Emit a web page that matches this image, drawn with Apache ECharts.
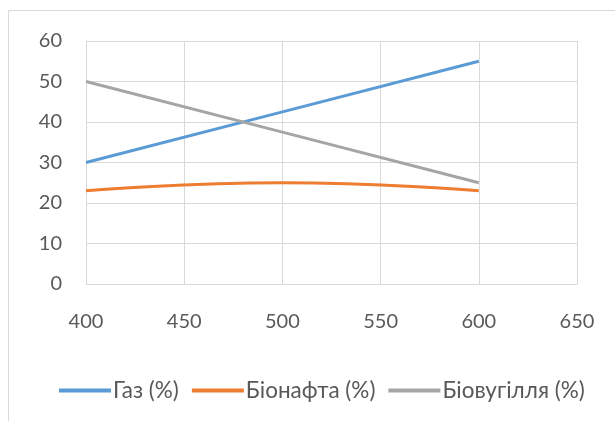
<!DOCTYPE html>
<html><head><meta charset="utf-8">
<script src="https://cdn.jsdelivr.net/npm/echarts@6/dist/echarts.min.js"></script>
<style>html,body{margin:0;padding:0;background:#fff}#c{width:615px;height:421px}</style>
</head><body><div id="c"></div>
<script>
const temps = [400, 500, 600];
const gas = [30, 42.5, 55];
const bioOil = [23, 25, 23];
const bioChar = [50, 37.5, 25];
const seriesNames = ['Газ (%)', 'Біонафта (%)', 'Біовугілля (%)'];
const colors = ['#5B9BD5', '#ED7D31', '#A5A5A5'];
const xTicks = {min: 400, max: 650, interval: 50};
const yTicks = {min: 0, max: 60, interval: 10};

const font = 'Lato, "Open Sans", sans-serif';
const chart = echarts.init(document.getElementById('c'), null, {renderer: 'canvas'});
const pair = arr => temps.map((t, i) => [t, arr[i]]);
chart.setOption({
  animation: false,
  graphic: [{type: 'rect', shape: {x: 8.5, y: 10.5, width: 700, height: 500},
    style: {fill: 'none', stroke: '#D9D9D9', lineWidth: 1}}],
  grid: {left: 86, right: 38, top: 41, bottom: 137},
  legend: {
    top: 374, left: 54, icon: 'rect', itemWidth: 52, itemHeight: 4, itemGap: 13,
    textStyle: {color: '#595959', fontSize: 22.5, fontFamily: font, padding: [0, 0, 0, -3]},
    data: seriesNames
  },
  xAxis: {type: 'value', min: xTicks.min, max: xTicks.max, interval: xTicks.interval,
    axisLine: {show: true, lineStyle: {color: '#D9D9D9'}}, axisTick: {show: false},
    splitLine: {show: true, lineStyle: {color: '#D9D9D9'}},
    axisLabel: {color: '#595959', fontSize: 20, fontFamily: font, margin: 28}},
  yAxis: {type: 'value', min: yTicks.min, max: yTicks.max, interval: yTicks.interval,
    axisLine: {show: true, lineStyle: {color: '#D9D9D9'}}, axisTick: {show: false},
    splitLine: {show: true, lineStyle: {color: '#D9D9D9'}},
    axisLabel: {color: '#595959', fontSize: 20, fontFamily: font, margin: 24}},
  series: [
    {name: seriesNames[0], type: 'line', data: pair(gas), showSymbol: false, lineStyle: {width: 3, color: colors[0]}, itemStyle: {color: colors[0]}},
    {name: seriesNames[1], type: 'line', data: pair(bioOil), smooth: true, showSymbol: false, lineStyle: {width: 3, color: colors[1]}, itemStyle: {color: colors[1]}},
    {name: seriesNames[2], type: 'line', data: pair(bioChar), showSymbol: false, lineStyle: {width: 3, color: colors[2]}, itemStyle: {color: colors[2]}}
  ]
});
</script></body></html>
